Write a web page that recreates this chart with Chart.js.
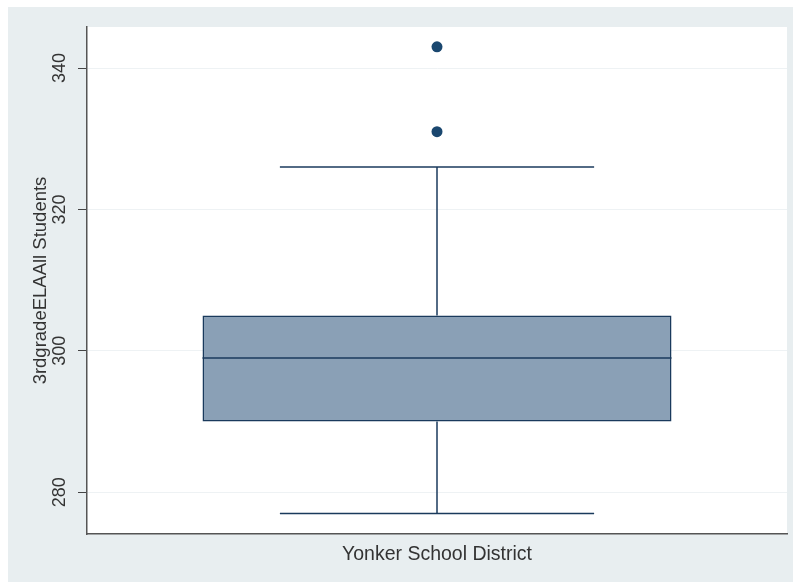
<!DOCTYPE html>
<html>
<head>
<meta charset="utf-8">
<script src="https://cdn.jsdelivr.net/npm/chart.js@4.4.1/dist/chart.umd.min.js"></script>
<style>
    html, body { margin: 0; padding: 0; background: #ffffff; }
    #wrap {
        position: absolute;
        left: 8px;
        top: 7px;
        width: 785px;
        height: 575px;
        background: #e8eef0;
    }
</style>
</head>
<body>
<div id="wrap"><canvas id="boxChart" width="785" height="575"></canvas></div>
<script>
// Box plot values
const categories = ["Yonker School District"];
const lowerWhisker = [277];
const q1 = [290];
const median = [299];
const q3 = [305];
const upperWhisker = [326];
const outliers = [331, 343];
const yTicks = [280, 300, 320, 340];

const navy = "#1a3a5c";

// white plot region behind the data
const plotBackground = {
    id: "plotBackground",
    beforeDraw(chart) {
        const { ctx, chartArea } = chart;
        ctx.save();
        ctx.fillStyle = "#ffffff";
        ctx.fillRect(chartArea.left, chartArea.top, chartArea.right - chartArea.left, chartArea.bottom - chartArea.top);
        ctx.restore();
    }
};

// whiskers, caps and median line, placed with the chart's own scales
const boxExtras = {
    id: "boxExtras",
    afterDatasetsDraw(chart) {
        const { ctx } = chart;
        const y = chart.scales.y;
        const bars = chart.getDatasetMeta(0).data;
        ctx.save();
        ctx.strokeStyle = navy;
        ctx.lineWidth = 1.5;
        bars.forEach((bar, i) => {
            const half = bar.width / 2;
            const capHalf = half * 0.67;
            const xc = bar.x;
            const line = (x1, y1, x2, y2) => {
                ctx.beginPath();
                ctx.moveTo(x1, y1);
                ctx.lineTo(x2, y2);
                ctx.stroke();
            };
            // median
            line(xc - half, y.getPixelForValue(median[i]), xc + half, y.getPixelForValue(median[i]));
            // upper whisker + cap
            line(xc, y.getPixelForValue(q3[i]), xc, y.getPixelForValue(upperWhisker[i]));
            line(xc - capHalf, y.getPixelForValue(upperWhisker[i]), xc + capHalf, y.getPixelForValue(upperWhisker[i]));
            // lower whisker + cap
            line(xc, y.getPixelForValue(q1[i]), xc, y.getPixelForValue(lowerWhisker[i]));
            line(xc - capHalf, y.getPixelForValue(lowerWhisker[i]), xc + capHalf, y.getPixelForValue(lowerWhisker[i]));
        });
        ctx.restore();
    }
};

const ctx = document.getElementById("boxChart").getContext("2d");

const boxChart = new Chart(ctx, {
    data: {
        labels: categories,
        datasets: [{
            type: "bar",
            data: categories.map((c, i) => [q1[i], q3[i]]),
            backgroundColor: "#8aa0b6",
            borderColor: navy,
            borderWidth: 1.5,
            borderSkipped: false,
            barPercentage: 0.67,
            categoryPercentage: 1.0
        }, {
            type: "line",
            data: outliers.map(v => ({ x: categories[0], y: v })),
            showLine: false,
            pointRadius: 5.5,
            pointBackgroundColor: "#1a476f",
            pointBorderColor: "#1a476f",
            pointBorderWidth: 0
        }]
    },
    options: {
        responsive: false,
        animation: false,
        layout: { padding: { left: 0, top: 20, right: 6, bottom: 0 } },
        plugins: {
            legend: { display: false },
            tooltip: { enabled: false }
        },
        scales: {
            x: {
                type: "category",
                grid: { display: false },
                border: { display: true, color: "#555555", width: 1.5 },
                ticks: {
                    color: "#333333",
                    font: { family: "Liberation Sans", size: 19.5 },
                    padding: 1
                },
                afterFit: axis => { axis.height = 48; }
            },
            y: {
                min: 274.1,
                max: 345.8,
                afterBuildTicks: axis => { axis.ticks = yTicks.map(v => ({ value: v })); },
                grid: {
                    color: "#eef2f4",
                    tickColor: "#444444",
                    tickLength: 9,
                    lineWidth: 1
                },
                border: { display: true, color: "#555555", width: 1.5 },
                ticks: {
                    color: "#333333",
                    font: { family: "Liberation Sans", size: 18 },
                    minRotation: 90,
                    maxRotation: 90,
                    crossAlign: "center",
                    padding: 3
                },
                title: {
                    display: true,
                    text: "3rdgradeELAAll Students",
                    color: "#333333",
                    font: { family: "Liberation Sans", size: 18.5 },
                    padding: { top: 22, bottom: 0 }
                },
                afterFit: axis => { axis.width = 79; }
            }
        }
    },
    plugins: [plotBackground, boxExtras]
});
</script>
</body>
</html>
